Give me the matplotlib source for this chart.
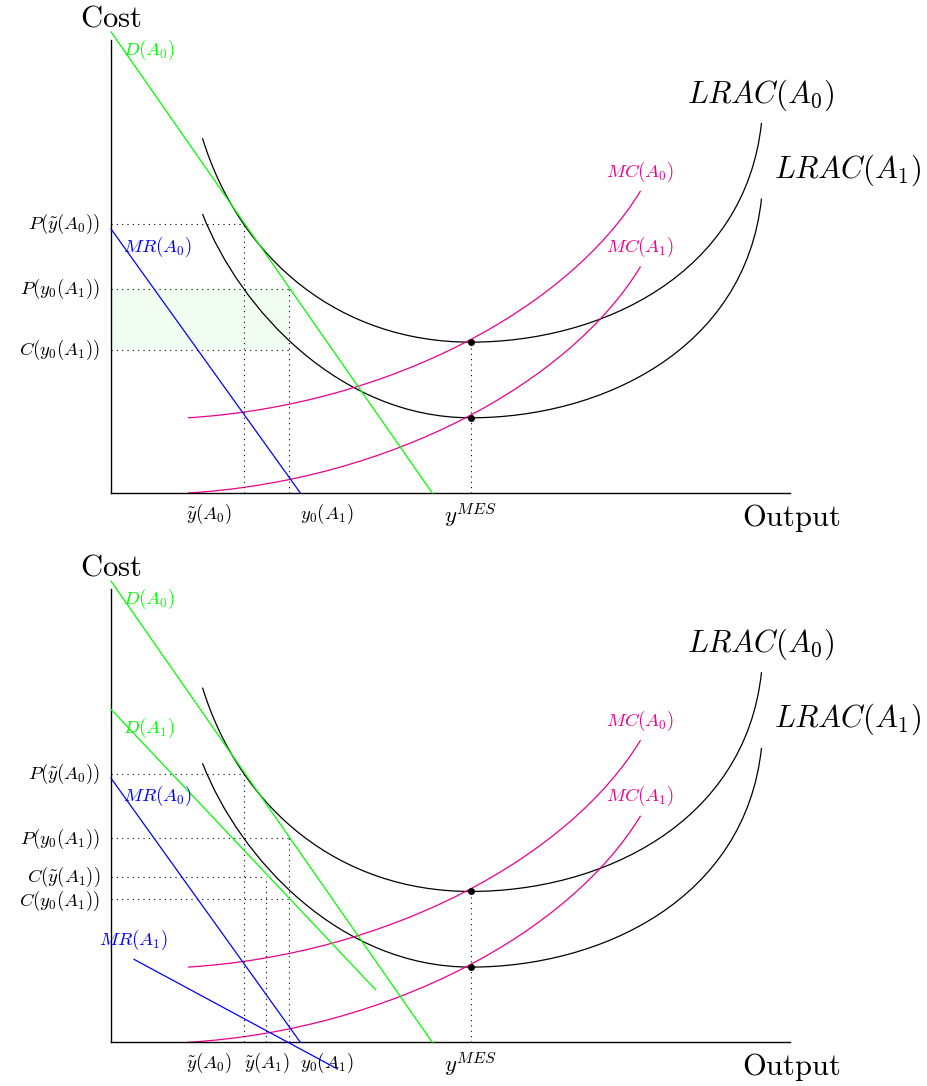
import numpy as np
import matplotlib
matplotlib.use("Agg")
import matplotlib.pyplot as plt
from matplotlib.path import Path
from matplotlib.patches import PathPatch

plt.rcParams['mathtext.fontset'] = 'cm'

# curves as cubic bezier control points (units)
lrac0_ctrl = [(2.02, 7.83), (2.85, 5.14), (5.06, 3.33), (7.94, 3.33),
              (10.80, 3.33), (14.00, 4.81), (14.36, 8.17)]
lrac1_ctrl = [(2.02, 6.16), (2.85, 4.04), (5.06, 1.66), (7.94, 1.66),
              (10.80, 1.66), (14.00, 3.14), (14.36, 6.50)]
mc0_ctrl = [(1.70, 1.66), (6.16, 1.94), (10.13, 4.10), (11.69, 6.67)]
mc1_ctrl = [(1.70, 0.00), (6.16, 0.27), (10.13, 2.43), (11.69, 5.00)]

# straight lines: (x0, y0), (x1, y1)
d0_line = [(0.0, 10.18), (7.09, 0.0)]
mr0_line = [(0.0, 5.83), (4.18, 0.0)]
d1_line = [(0.0, 7.35), (5.84, 1.16)]
mr1_line = [(0.51, 1.83), (5.00, -0.59)]

# levels
y_tilde0 = 2.94
y_tilde1 = 3.43
y0_A1 = 3.94
y_mes = 7.94
p_tilde0 = 5.93
p_y0 = 4.50
c_y0 = 3.16
c_tilde1 = 3.66
lrac0_min = 3.33
lrac1_min = 1.66

x_axis_len = 15.0
y_axis_len = 10.0

PINK = '#EC008C'
GREEN = '#00FF00'
BLUE = '#0000FF'

S = 45.3  # pixels per unit
FS = 13.5  # small label size
FL = 22    # big label size


def bezier(ax, pts, color, lw=0.9):
    codes = [Path.MOVETO] + [Path.CURVE4] * (len(pts) - 1)
    ax.add_patch(PathPatch(Path(pts, codes), facecolor='none',
                           edgecolor=color, lw=lw))


def dotted(ax, xs, ys):
    ax.plot(xs, ys, color='k', lw=0.8, linestyle=(0, (1, 3.8)))


def panel(ax, second):
    ax.axis('off')
    # axes
    ax.plot([0, 0], [0, y_axis_len], color='k', lw=1.0)
    ax.plot([0, x_axis_len], [0, 0], color='k', lw=1.0)
    ax.text(0, 10.49, r'$\mathrm{Cost}$', fontsize=FL, ha='center', va='center')
    ax.text(15.02, -0.55, r'$\mathrm{Output}$', fontsize=FL, ha='center', va='center')

    if not second:
        ax.fill_between([0, y0_A1], c_y0, p_y0, color='#F2FDF2', lw=0, zorder=0)

    # dotted guides
    dotted(ax, [0, y_tilde0], [p_tilde0, p_tilde0])
    dotted(ax, [y_tilde0, y_tilde0], [0, p_tilde0])
    dotted(ax, [0, y0_A1], [p_y0, p_y0])
    dotted(ax, [y0_A1, y0_A1], [0, p_y0])
    dotted(ax, [0, y0_A1], [c_y0, c_y0])
    dotted(ax, [y_mes, y_mes], [0, lrac0_min])
    if second:
        dotted(ax, [0, y_tilde1], [c_tilde1, c_tilde1])
        dotted(ax, [y_tilde1, y_tilde1], [0, c_tilde1])

    # curves
    bezier(ax, lrac0_ctrl, 'k')
    bezier(ax, lrac1_ctrl, 'k')
    bezier(ax, mc0_ctrl, PINK)
    bezier(ax, mc1_ctrl, PINK)
    ax.plot(*zip(*d0_line), color=GREEN, lw=0.9)
    ax.plot(*zip(*mr0_line), color=BLUE, lw=0.9)
    if second:
        ax.plot(*zip(*d1_line), color=GREEN, lw=0.9)
        ax.plot(*zip(*mr1_line), color=BLUE, lw=0.9)

    ax.plot([y_mes, y_mes], [lrac0_min, lrac1_min], 'o', color='k', ms=4)

    # curve labels
    ax.text(14.33, 8.79, r'$LRAC(A_0)$', fontsize=FL, ha='center', va='center')
    ax.text(16.25, 7.13, r'$LRAC(A_1)$', fontsize=FL, ha='center', va='center')
    ax.text(11.68, 7.09, r'$MC(A_0)$', fontsize=FS, ha='center', va='center', color=PINK)
    ax.text(11.68, 5.43, r'$MC(A_1)$', fontsize=FS, ha='center', va='center', color=PINK)
    ax.text(0.26, 9.78, r'$D(A_0)$', fontsize=FS, ha='left', va='center', color=GREEN)
    ax.text(0.26, 5.43, r'$MR(A_0)$', fontsize=FS, ha='left', va='center', color=BLUE)
    if second:
        ax.text(0.26, 6.94, r'$D(A_1)$', fontsize=FS, ha='left', va='center', color=GREEN)
        ax.text(0.50, 2.26, r'$MR(A_1)$', fontsize=FS, ha='center', va='center', color=BLUE)

    # y labels
    ax.text(-0.24, p_tilde0, r'$P(\tilde{y}(A_0))$', fontsize=FS, ha='right', va='center')
    ax.text(-0.24, p_y0, r'$P(y_0(A_1))$', fontsize=FS, ha='right', va='center')
    if second:
        ax.text(-0.24, c_tilde1, r'$C(\tilde{y}(A_1))$', fontsize=FS, ha='right', va='center')
        ax.text(-0.24, c_y0 - 0.05, r'$C(y_0(A_1))$', fontsize=FS, ha='right', va='center')
    else:
        ax.text(-0.24, c_y0, r'$C(y_0(A_1))$', fontsize=FS, ha='right', va='center')

    # x labels
    ax.text(2.66, -0.46, r'$\tilde{y}(A_0)$', fontsize=FS, ha='right', va='center')
    ax.text(4.17, -0.46, r'$y_0(A_1)$', fontsize=FS, ha='left', va='center')
    if second:
        ax.text(3.43, -0.46, r'$\tilde{y}(A_1)$', fontsize=FS, ha='center', va='center')
    ax.text(y_mes, -0.48, r'$y^{MES}$', fontsize=16.5, ha='center', va='center')


fig = plt.figure(figsize=(9.28, 10.86), dpi=100)
W, H = 928, 1086
x_lo = -111 / S
x_hi = x_lo + W / S

ax1 = fig.add_axes([0, 0.5, 1, 0.5])
ax1.set_xlim(x_lo, x_hi)
ax1.set_ylim(-(543 - 493) / S, 493 / S)
panel(ax1, False)

ax2 = fig.add_axes([0, 0, 1, 0.5])
ax2.set_xlim(x_lo, x_hi)
ax2.set_ylim(-(1086 - 1042.3) / S, (1042.3 - 543) / S)
panel(ax2, True)

fig.savefig('out.png', dpi=100)
